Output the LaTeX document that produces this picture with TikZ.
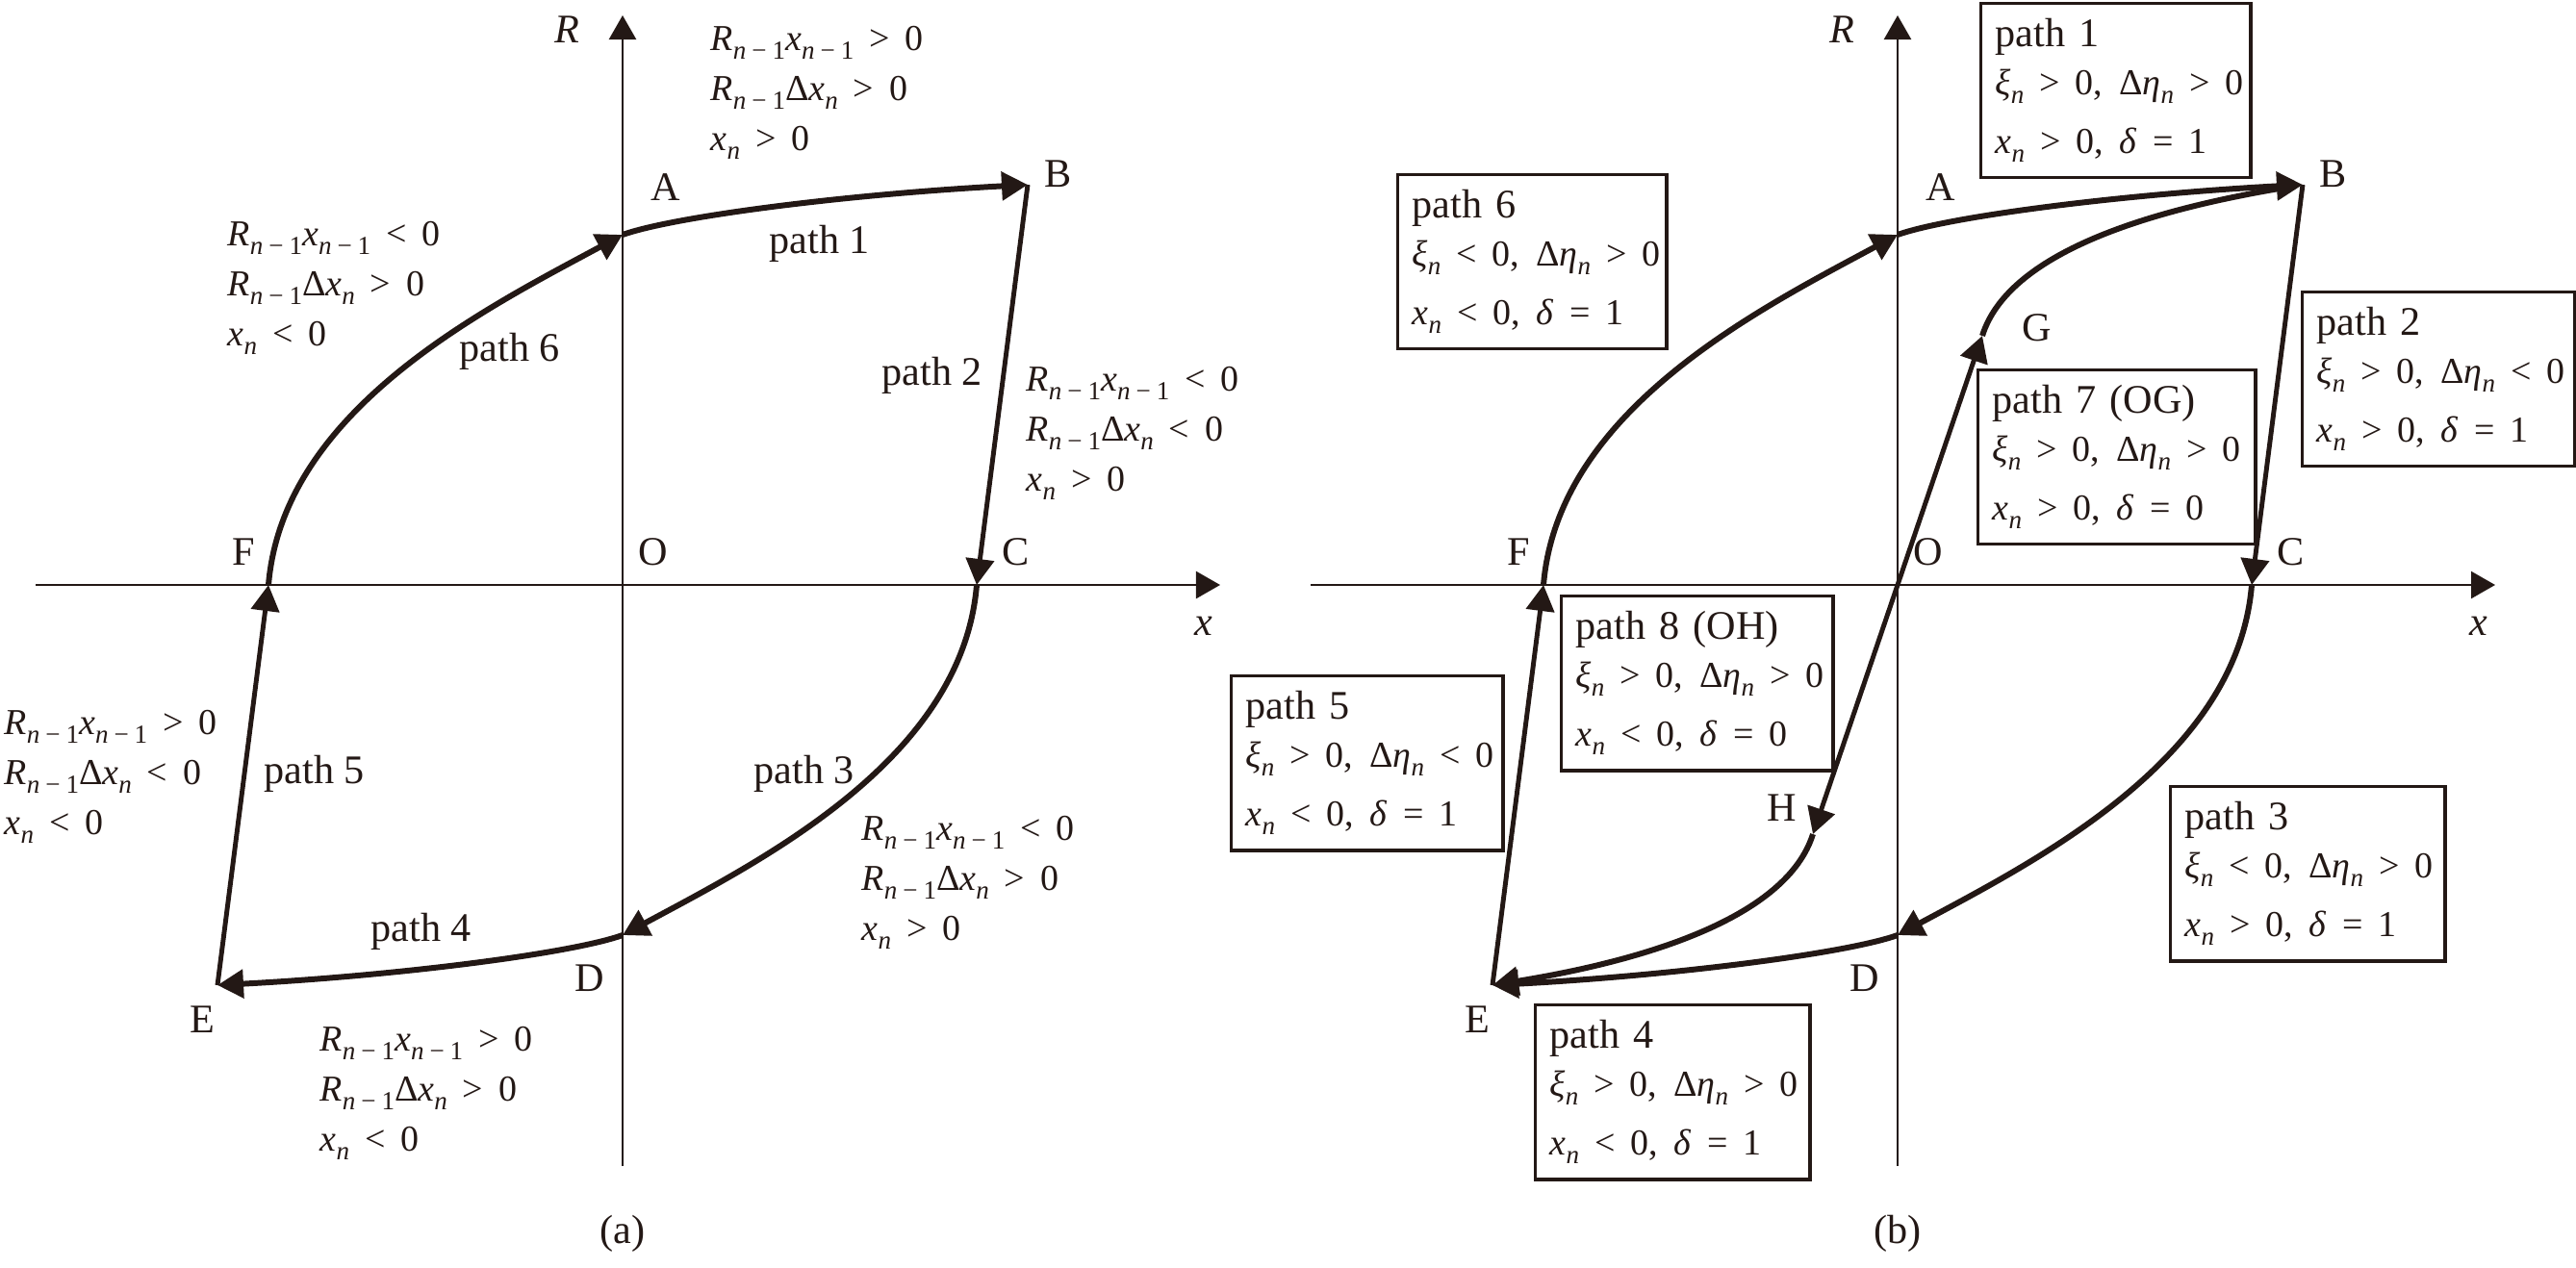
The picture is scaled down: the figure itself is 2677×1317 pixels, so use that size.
\documentclass[tikz,border=0pt]{standalone}
\usepackage{fontspec}
\setmainfont{Liberation Serif}
\usetikzlibrary{arrows.meta}
\definecolor{ink}{RGB}{35,24,21}
\newcommand{\qlb}{\fontsize{12}{14.23}\selectfont}
\newcommand{\qmt}{\fontsize{10.8}{14.23}\selectfont}
\newcommand{\qma}{\fontsize{10.8}{14.8}\selectfont}
\newcommand{\qI}[1]{\textit{#1}}
\newcommand{\qsb}[1]{\raisebox{-2.6pt}{\fontsize{7.7}{9}\selectfont #1}}
\newcommand{\qnm}{\qsb{\qI{n}\hspace{0.22em}−\hspace{0.22em}1}}
\newcommand{\qnn}{\qsb{\qI{n}}}
\newcommand{\qrl}[1]{\hspace{0.42em}#1\hspace{0.42em}}
\newcommand{\qRx}[1]{\mbox{\qI{R}\qnm\qI{x}\qnm\qrl{#1}0}}
\newcommand{\qRDx}[1]{\mbox{\qI{R}\qnm Δ\qI{x}\qnn\qrl{#1}0}}
\newcommand{\qxn}[1]{\mbox{\qI{x}\qnn\qrl{#1}0}}
\newcommand{\qzc}[2]{\mbox{\qmt\qI{ξ}\qnn\qrl{#1}0,\hspace{0.45em}Δ\qI{η}\qnn\qrl{#2}0}}
\newcommand{\qxd}[2]{\mbox{\qmt\qI{x}\qnn\qrl{#1}0,\hspace{0.45em}\qI{δ}\qrl{=}#2}}
\tikzset{
  ax/.style={draw=ink, line width=0.7pt, -{Triangle[length=0.25cm,width=0.28cm]}},
  crv/.style={draw=ink, line width=1.7pt, -{Triangle[length=0.27cm,width=0.29cm]}},
  strl/.style={draw=ink, line width=1.4pt, -{Triangle[length=0.27cm,width=0.29cm]}},
  lbl/.style={font=\qlb, text=ink, inner sep=0pt, anchor=base},
  plab/.style={font=\qlb, text=ink, inner sep=0pt, anchor=base west},
  blk/.style={font=\qma, text=ink, inner sep=0pt, anchor=north west, align=left, text width=4cm},
  pbox/.style={draw=ink, line width=0.95pt, font=\qlb, text=ink, anchor=north west,
    inner xsep=0.15cm, inner ysep=0.1cm, align=left}
}
\newcommand{\qpanel}[2]{%
  \coordinate (#1O) at (0,0);
  \coordinate (#1A) at (0,-364);
  \coordinate (#1B) at (421,-416);
  \coordinate (#1C) at (368,0);
  \coordinate (#1D) at (0,364);
  \coordinate (#1E) at (-421,416);
  \coordinate (#1F) at (-368,0);
  \coordinate (#1xl) at (-610,0);
  \coordinate (#1xr) at (621,0);
  \coordinate (#1yb) at (0,604);
  \coordinate (#1yt) at (0,-592);
  \draw[ax] (#1xl) -- (#1xr);
  \draw[ax] (#1yb) -- (#1yt);
  \draw[crv] (#1A) .. controls (53,-383) and (233,-406) .. (#1B);
  \draw[strl] (#1B) -- (#1C);
  \draw[crv] (#1C) .. controls (353,182) and (143,287) .. (#1D);
  \draw[crv] (#1D) .. controls (-53,383) and (-233,406) .. (#1E);
  \draw[strl] (#1E) -- (#1F);
  \draw[crv] (#1F) .. controls (-353,-182) and (-143,-287) .. (#1A);
  \node[lbl] (#1lR) at (-58,-564) {\qI{R}};
  \node[lbl] (#1lx) at (604,52) {\qI{x}};
  \node[lbl] (#1lA) at (45,-400) {A};
  \node[lbl] (#1lB) at (453,-414) {B};
  \node[lbl] (#1lO) at (32,-21) {O};
  \node[lbl] (#1lC) at (409,-21) {C};
  \node[lbl] (#1lF) at (-394,-21) {F};
  \node[lbl] (#1lD) at (-34,422) {D};
  \node[lbl] (#1lE) at (-437,465) {E};
  \node[lbl] (#1cap) at (0,684) {(#2)};
}
\begin{document}
\begin{tikzpicture}[x=0.01cm,y=-0.01cm]
\useasboundingbox (0,0) rectangle (2677,1317);
% ---------------- panel (a)
\begin{scope}[shift={(647,608)}]
  \qpanel{a}{a}
  \node[plab] (ap1) at (152,-345) {path 1};
  \node[plab] (ap6) at (-170,-233) {path 6};
  \node[plab] (ap2) at (269,-208) {path 2};
  \node[plab] (ap5) at (-373,206) {path 5};
  \node[plab] (ap3) at (136,206) {path 3};
  \node[plab] (ap4) at (-262,370) {path 4};
\end{scope}
\node[blk] (ab1) at (738,15.6) {\strut\qRx{>}\\\qRDx{>}\\\qxn{>}};
\node[blk] (ab6) at (236,218.6) {\strut\qRx{<}\\\qRDx{>}\\\qxn{<}};
\node[blk] (ab2) at (1066,369.6) {\strut\qRx{<}\\\qRDx{<}\\\qxn{>}};
\node[blk] (ab5) at (4,726.6) {\strut\qRx{>}\\\qRDx{<}\\\qxn{<}};
\node[blk] (ab3) at (895,836.6) {\strut\qRx{<}\\\qRDx{>}\\\qxn{>}};
\node[blk] (ab4) at (332,1055.6) {\strut\qRx{>}\\\qRDx{>}\\\qxn{<}};
% ---------------- panel (b)
\begin{scope}[shift={(1972,608)}]
  \qpanel{b}{b}
  \coordinate (bG) at (88,-259);
  \coordinate (bH) at (-88,259);
  \draw[strl] (bO) -- (bG);
  \draw[strl] (bO) -- (bH);
  \draw[draw=ink, line width=1.7pt, shorten >=0.12cm] (bG) .. controls (115,-345) and (260,-390) .. (bB);
  \draw[crv] (bH) .. controls (-115,345) and (-260,390) .. (bE);
  \node[lbl] (blG) at (145,-254) {G};
  \node[lbl] (blH) at (-120,245.5) {H};
\end{scope}
\node[pbox, text width=2.5cm] (bp1) at (2057,2) {\strut path 1\\\qzc{>}{>}\\[3.13pt]\qxd{>}{1}\strut};
\node[pbox, text width=2.49cm] (bp6) at (1451,180) {\strut path 6\\\qzc{<}{>}\\[3.13pt]\qxd{<}{1}\strut};
\node[pbox, text width=2.53cm] (bp2) at (2391,302) {\strut path 2\\\qzc{>}{<}\\[3.13pt]\qxd{>}{1}\strut};
\node[pbox, text width=2.58cm] (bp7) at (2054,383) {\strut path 7 (OG)\\\qzc{>}{>}\\[3.13pt]\qxd{>}{0}\strut};
\node[pbox, text width=2.52cm] (bp8) at (1621,618) {\strut path 8 (OH)\\\qzc{>}{>}\\[3.13pt]\qxd{<}{0}\strut};
\node[pbox, text width=2.52cm] (bp5) at (1278,701) {\strut path 5\\\qzc{>}{<}\\[3.13pt]\qxd{<}{1}\strut};
\node[pbox, text width=2.55cm] (bp3) at (2254,816) {\strut path 3\\\qzc{<}{>}\\[3.13pt]\qxd{>}{1}\strut};
\node[pbox, text width=2.55cm] (bp4) at (1594,1043) {\strut path 4\\\qzc{>}{>}\\[3.13pt]\qxd{<}{1}\strut};
\end{tikzpicture}
\end{document}
